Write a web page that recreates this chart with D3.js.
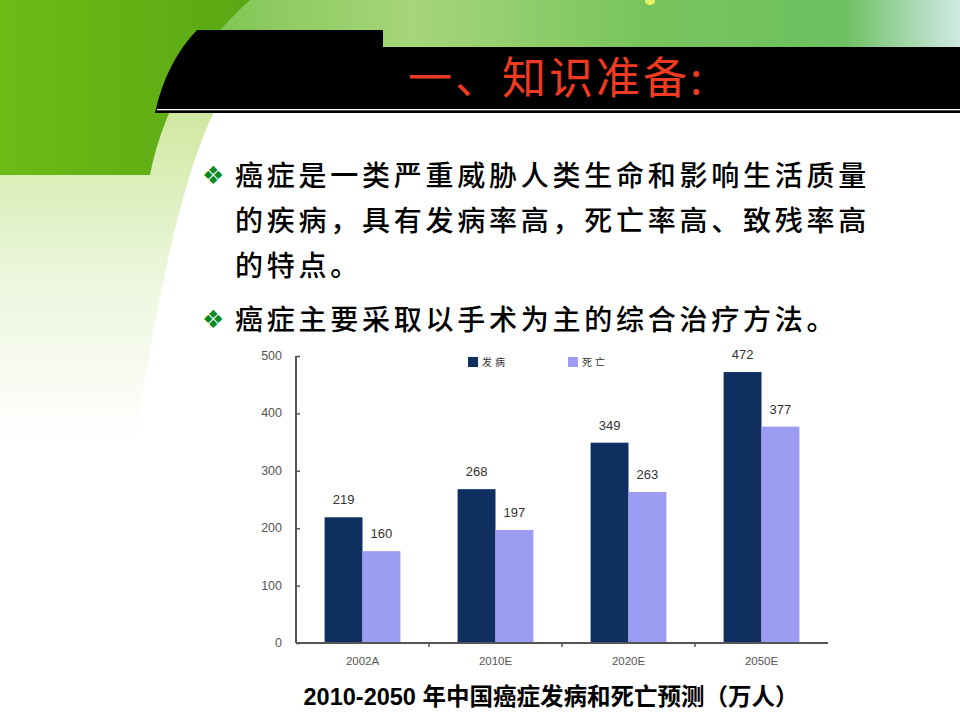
<!DOCTYPE html>
<html><head><meta charset="utf-8">
<script src="https://cdn.jsdelivr.net/npm/d3@7"></script>
<style>html,body{margin:0;padding:0;background:#fff;}svg{display:block;}</style>
</head><body>
<svg id="c" width="960" height="720"></svg>
<script>
const categories = ["2002A","2010E","2020E","2050E"];
const seriesNames = ["发病","死亡"];
const incidence = [219,268,349,472];
const deaths = [160,197,263,377];
const yTicks = [0,100,200,300,400,500];
const titleText = "一、知识准备:";
const bulletLines = [
  {bullet:true, text:"癌症是一类严重威胁人类生命和影响生活质量"},
  {bullet:false, text:"的疾病，具有发病率高，死亡率高、致残率高"},
  {bullet:false, text:"的特点。"},
  {bullet:true, text:"癌症主要采取以手术为主的综合治疗方法。"}
];
const captionText = "2010-2050 年中国癌症发病和死亡预测（万人）";

const svg = d3.select("#c");
const defs = svg.append("defs");

// background decorations
const gTop = defs.append("linearGradient").attr("id","gTop").attr("x1","0").attr("x2","1").attr("y1","0").attr("y2","0");
gTop.append("stop").attr("offset","0").attr("stop-color","#7cc24e");
gTop.append("stop").attr("offset","0.3").attr("stop-color","#a6d67a");
gTop.append("stop").attr("offset","0.6").attr("stop-color","#78c45c");
gTop.append("stop").attr("offset","0.85").attr("stop-color","#6cc060");
gTop.append("stop").attr("offset","1").attr("stop-color","#cfe9e4");
const gPale = defs.append("linearGradient").attr("id","gPale").attr("x1","0").attr("x2","0").attr("y1","0").attr("y2","1");
gPale.append("stop").attr("offset","0").attr("stop-color","#cfe8a0");
gPale.append("stop").attr("offset","0.5").attr("stop-color","#ecf6dc");
gPale.append("stop").attr("offset","1").attr("stop-color","#ffffff");
const gSolid = defs.append("linearGradient").attr("id","gSolid").attr("x1","0").attr("x2","1").attr("y1","0").attr("y2","0");
gSolid.append("stop").attr("offset","0").attr("stop-color","#6cbc16");
gSolid.append("stop").attr("offset","1").attr("stop-color","#5aa814");

svg.append("rect").attr("x",180).attr("y",0).attr("width",780).attr("height",50).attr("fill","url(#gTop)");
svg.append("ellipse").attr("cx",650).attr("cy",1).attr("rx",5).attr("ry",4).attr("fill","#e8f060");
svg.append("path").attr("d","M0,110 L215,110 C185,170 160,280 135,440 L0,440 Z").attr("fill","url(#gPale)");
svg.append("path").attr("d","M0,0 L250,0 C205,40 165,100 150,175 L0,175 Z").attr("fill","url(#gSolid)");
svg.append("path").attr("d","M197,30 L383,30 L383,47 L960,47 L960,113 L155,113 C162,80 176,52 197,30 Z").attr("fill","#000");
svg.append("rect").attr("x",157).attr("y",109).attr("width",803).attr("height",1.3).attr("fill","#fff");

svg.append("text").attr("x",408).attr("y",94)
  .attr("font-family","'Noto Sans CJK SC'").attr("font-size",44).attr("font-weight","normal")
  .attr("fill","#f03a22").attr("letter-spacing",3).text(titleText);

// bullets
const baselines = [186,231,276,330];
bulletLines.forEach((l,i)=>{
  if(l.bullet){
    svg.append("text").attr("x",202).attr("y",baselines[i]-2).attr("font-family","'DejaVu Sans'")
      .attr("font-size",25).attr("fill","#0b8a22").text("❖");
  }
  svg.append("text").attr("x",235).attr("y",baselines[i]).attr("font-family","'Noto Sans CJK SC'")
    .attr("font-size",28).attr("font-weight","500").attr("letter-spacing",3.75).attr("fill","#000").text(l.text);
});

// chart
const x0 = d3.scaleBand().domain(categories).range([296,828]).paddingInner(0.43).paddingOuter(0.215);
const x1 = d3.scaleBand().domain(seriesNames).range([0,x0.bandwidth()]);
const y = d3.scaleLinear().domain([0,500]).range([643,356]);
const colors = d3.scaleOrdinal().domain(seriesNames).range(["#0e2f60","#9c9cf2"]);
const data = categories.map((c,i)=>({cat:c, vals:[{s:seriesNames[0],v:incidence[i]},{s:seriesNames[1],v:deaths[i]}]}));

const groups = svg.append("g").selectAll("g").data(data).join("g")
  .attr("transform",d=>`translate(${x0(d.cat)},0)`);
groups.selectAll("rect").data(d=>d.vals).join("rect")
  .attr("x",d=>x1(d.s)).attr("y",d=>y(d.v)).attr("width",x1.bandwidth()).attr("height",d=>y(0)-y(d.v))
  .attr("fill",d=>colors(d.s));
groups.selectAll("text").data(d=>d.vals).join("text")
  .attr("x",d=>x1(d.s)+x1.bandwidth()/2).attr("y",d=>y(d.v)-13).attr("text-anchor","middle")
  .attr("font-family","Arial, 'Liberation Sans'").attr("font-size",13).attr("fill","#333").text(d=>d.v);

// y axis
const yAxis = svg.append("g").attr("transform","translate(296,0)")
  .call(d3.axisRight(y).tickValues(yTicks).tickSize(4).tickFormat(""));
yAxis.select(".domain").attr("stroke","#555").attr("stroke-width",2).attr("d","M0,356V643");
yAxis.selectAll(".tick line").attr("stroke","#555").attr("stroke-width",1.5);
svg.append("g").selectAll("text").data(yTicks).join("text")
  .attr("x",282).attr("y",d=>y(d)+4).attr("text-anchor","end")
  .attr("font-family","Arial, 'Liberation Sans'").attr("font-size",12.5).attr("fill","#555").text(d=>d);

// x axis
const xAxis = svg.append("g").attr("transform","translate(0,643)")
  .call(d3.axisBottom(x0).tickSize(0).tickPadding(14));
xAxis.select(".domain").attr("stroke","#555").attr("stroke-width",2).attr("d","M296,0H828");
xAxis.selectAll(".tick text").attr("font-family","Arial, 'Liberation Sans'").attr("font-size",11.5).attr("fill","#555");
const step = x0.step();
svg.append("g").selectAll("line").data(categories.slice(1)).join("line")
  .attr("x1",d=>x0(d)-(step-x0.bandwidth())/2).attr("x2",d=>x0(d)-(step-x0.bandwidth())/2)
  .attr("y1",643).attr("y2",647).attr("stroke","#555").attr("stroke-width",1.5);

// legend
const lg = svg.append("g").selectAll("g").data(seriesNames).join("g")
  .attr("transform",(d,i)=>`translate(${468+i*100},357)`);
lg.append("rect").attr("width",10).attr("height",10).attr("fill",d=>colors(d));
lg.append("text").attr("x",14).attr("y",9).attr("font-family","'Noto Sans CJK SC'").attr("font-size",10)
  .attr("letter-spacing",3).attr("fill","#333").text(d=>d);

// caption
svg.append("text").attr("x",551).attr("y",705).attr("text-anchor","middle")
  .attr("font-family","Arial, 'Liberation Sans', 'Noto Sans CJK SC'").attr("font-size",23.5).attr("font-weight","bold")
  .attr("fill","#000").text(captionText);
</script>
</body></html>
